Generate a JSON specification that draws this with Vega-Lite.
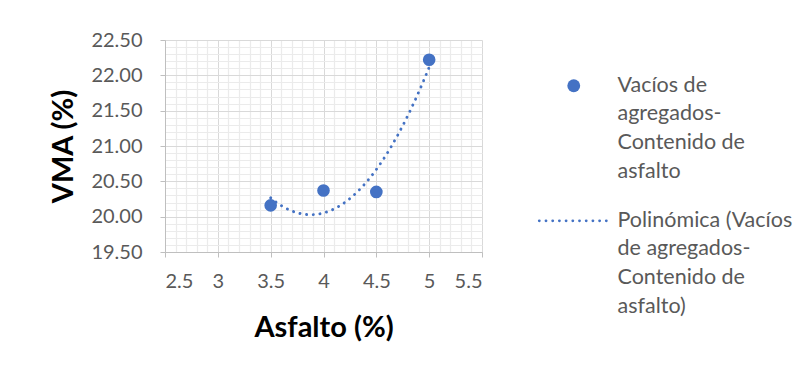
{
  "$schema": "https://vega.github.io/schema/vega-lite/v6.json",
  "autosize": "none",
  "width": 317,
  "height": 212,
  "padding": {"left": 165, "top": 40, "right": 327, "bottom": 121},
  "background": "white",
  "config": {
    "font": "Lato",
    "view": {"stroke": null},
    "axis": {"labelFont": "Lato", "titleFont": "Lato"},
    "legend": {
      "orient": "none",
      "legendX": 373,
      "legendY": 35,
      "padding": 0,
      "labelFont": "Lato",
      "labelFontSize": 21.5,
      "labelColor": "#595959",
      "labelLimit": 400,
      "symbolOffset": 25,
      "labelOffset": 33,
      "labelBaseline": "top",
      "rowPadding": 26
    }
  },
  "data": {
    "values": [
      {"asfalto": 3.5, "vma": 20.16},
      {"asfalto": 4.0, "vma": 20.37},
      {"asfalto": 4.5, "vma": 20.35},
      {"asfalto": 5.0, "vma": 22.22}
    ]
  },
  "resolve": {"axis": {"x": "independent", "y": "independent"}},
  "layer": [
    {
      "mark": {"type": "circle", "size": 160, "opacity": 1, "color": "#4472C4"},
      "encoding": {
        "x": {
          "field": "asfalto", "type": "quantitative",
          "scale": {"domain": [2.5, 5.5], "nice": false, "zero": false},
          "axis": {
            "orient": "bottom", "values": [2.6,2.7,2.8,2.9,3.1,3.2,3.3,3.4,3.6,3.7,3.8,3.9,4.1,4.2,4.3,4.4,4.6,4.7,4.8,4.9,5.1,5.2,5.3,5.4],
            "grid": true, "gridColor": "#EBEBEB", "gridWidth": 1.2,
            "labels": false, "ticks": false, "domain": false, "title": null
          }
        },
        "y": {
          "field": "vma", "type": "quantitative",
          "scale": {"domain": [19.5, 22.5], "nice": false, "zero": false},
          "axis": {
            "orient": "left", "values": [19.6,19.7,19.8,19.9,20.1,20.2,20.3,20.4,20.6,20.7,20.8,20.9,21.1,21.2,21.3,21.4,21.6,21.7,21.8,21.9,22.1,22.2,22.3,22.4],
            "grid": true, "gridColor": "#EBEBEB", "gridWidth": 1.2,
            "labels": false, "ticks": false, "domain": false, "title": null
          }
        },
        "color": {
          "datum": "Vacíos de agregados-Contenido de asfalto",
          "type": "nominal",
          "scale": {
            "domain": ["Vacíos de agregados-Contenido de asfalto", "Polinómica (Vacíos de agregados-Contenido de asfalto)"],
            "range": ["#4472C4", "#4472C4"]
          },
          "legend": {
            "title": null,
            "labelExpr": "datum.index == 1 ? ['Polinómica (Vacíos', 'de agregados-', 'Contenido de', 'asfalto)'] : ['Vacíos de', 'agregados-', 'Contenido de', 'asfalto']",
            "encode": {
              "symbols": {
                "update": {
                  "shape": {"signal": "datum.index == 1 ? 'stroke' : 'circle'"},
                  "size": {"signal": "datum.index == 1 ? 4761 : 165"},
                  "fill": {"signal": "datum.index == 1 ? 'transparent' : '#4472C4'"},
                  "stroke": {"value": "#4472C4"},
                  "strokeWidth": {"signal": "datum.index == 1 ? 2.75 : 0"},
                  "strokeDash": {"signal": "datum.index == 1 ? [0.1, 6.6] : [1, 0]"},
                  "strokeCap": {"value": "round"},
                  "opacity": {"value": 1}
                }
              },
              "labels": {
                "update": {
                  "lineHeight": {"value": 28.7},
                  "dy": {"value": -11}
                }
              }
            }
          }
        }
      }
    },
    {
      "transform": [
        {"regression": "vma", "on": "asfalto", "method": "poly", "order": 2}
      ],
      "mark": {"type": "line", "color": "#4472C4", "strokeWidth": 2.9, "strokeDash": [0.1, 6.6], "strokeCap": "round"},
      "encoding": {
        "x": {
          "field": "asfalto", "type": "quantitative",
          "axis": {
            "orient": "bottom",
            "values": [2.5, 3, 3.5, 4, 4.5, 5, 5.5],
            "format": "~g",
            "grid": true, "gridColor": "#D9D9D9", "gridWidth": 1,
            "domainColor": "#BFBFBF", "tickColor": "#BFBFBF", "tickSize": 5,
            "labelFontSize": 20, "labelColor": "#595959", "labelPadding": 14,
            "title": "Asfalto (%)", "titleFontSize": 29, "titleFontWeight": "bold",
            "titleColor": "#000000", "titlePadding": 22
          }
        },
        "y": {
          "field": "vma", "type": "quantitative",
          "axis": {
            "orient": "left",
            "values": [19.5, 20, 20.5, 21, 21.5, 22, 22.5],
            "format": ".2f",
            "grid": true, "gridColor": "#D9D9D9", "gridWidth": 1,
            "domainColor": "#BFBFBF", "tickColor": "#BFBFBF", "tickSize": 5,
            "labelFontSize": 20, "labelColor": "#595959", "labelPadding": 18,
            "title": "VMA (%)", "titleFontSize": 29, "titleFontWeight": "bold",
            "titleColor": "#000000", "titlePadding": 12
          }
        },
        "color": {
          "datum": "Polinómica (Vacíos de agregados-Contenido de asfalto)",
          "type": "nominal",
          "legend": {
            "title": null,
            "labelExpr": "datum.index == 1 ? ['Polinómica (Vacíos', 'de agregados-', 'Contenido de', 'asfalto)'] : ['Vacíos de', 'agregados-', 'Contenido de', 'asfalto']",
            "encode": {
              "symbols": {
                "update": {
                  "shape": {"signal": "datum.index == 1 ? 'stroke' : 'circle'"},
                  "size": {"signal": "datum.index == 1 ? 4761 : 165"},
                  "fill": {"signal": "datum.index == 1 ? 'transparent' : '#4472C4'"},
                  "stroke": {"value": "#4472C4"},
                  "strokeWidth": {"signal": "datum.index == 1 ? 2.75 : 0"},
                  "strokeDash": {"signal": "datum.index == 1 ? [0.1, 6.6] : [1, 0]"},
                  "strokeCap": {"value": "round"},
                  "opacity": {"value": 1}
                }
              },
              "labels": {
                "update": {
                  "lineHeight": {"value": 28.7},
                  "dy": {"value": -11}
                }
              }
            }
          }
        }
      }
    }
  ]
}
